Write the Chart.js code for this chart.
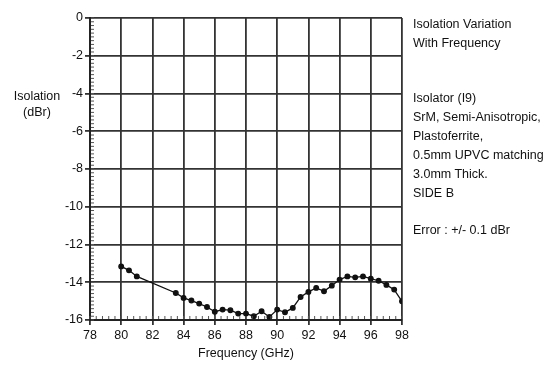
<!DOCTYPE html>
<html>
<head>
<meta charset="utf-8">
<script src="https://cdn.jsdelivr.net/npm/chart.js@4"></script>
<style>
  html, body { margin: 0; padding: 0; background: #fff; }
  #wrap { position: relative; width: 555px; height: 369px; }
  canvas { position: absolute; left: 0; top: 0; }
  .txt { position: absolute; font-family: 'Liberation Sans Narrow', 'Liberation Sans', Arial, sans-serif; font-size: 12.5px; color: #111; line-height: 19px; white-space: nowrap; }
</style>
</head>
<body>
<div id="wrap">
  <canvas id="myChart" width="555" height="369"></canvas>
  <div class="txt" style="left:11px; top:88px; line-height:16px; text-align:center; width:52px;">Isolation<br>(dBr)</div>
  <div class="txt" style="left:413px; top:15px;">Isolation Variation<br>With Frequency</div>
  <div class="txt" style="left:413px; top:89px;">Isolator (I9)<br>SrM, Semi-Anisotropic,<br>Plastoferrite,<br>0.5mm UPVC matching<br>3.0mm Thick.<br>SIDE B</div>
  <div class="txt" style="left:413px; top:221px;">Error : +/- 0.1 dBr</div>
</div>
<script>
const frequency = [80, 80.5, 81, 83.5, 84, 84.5, 85, 85.5, 86, 86.5, 87, 87.5, 88, 88.5, 89, 89.5,
    90, 90.5, 91, 91.5, 92, 92.5, 93, 93.5, 94, 94.5, 95, 95.5, 96, 96.5, 97, 97.5, 98];
const isolation = [-13.16, -13.37, -13.69, -14.57, -14.83, -14.97, -15.13, -15.31, -15.56, -15.45, -15.48, -15.66, -15.66, -15.8, -15.54, -15.84,
    -15.45, -15.59, -15.36, -14.78, -14.51, -14.30, -14.48, -14.18, -13.86, -13.69, -13.74, -13.69, -13.81, -13.92, -14.14, -14.39, -15.01];
const xTicks = [78, 80, 82, 84, 86, 88, 90, 92, 94, 96, 98];
const yTicks = [0, -2, -4, -6, -8, -10, -12, -14, -16];

const font = "'Liberation Sans Narrow', 'Liberation Sans', Arial, sans-serif";
const ink = '#111';
const gridColor = '#333';

// small dotted minor ticks along the left and bottom axes
const minorTicks = {
    id: 'minorTicks',
    afterDraw(chart) {
        const c = chart.ctx;
        const x = chart.scales.x, y = chart.scales.y;
        c.save();
        c.strokeStyle = '#555';
        c.lineWidth = 1;
        c.beginPath();
        for (let v = 78; v <= 98.001; v += 0.4) {
            const px = x.getPixelForValue(v);
            c.moveTo(px, y.bottom - 1);
            c.lineTo(px, y.bottom - 4);
        }
        for (let v = -16; v <= 0.001; v += 0.2) {
            const py = y.getPixelForValue(v);
            c.moveTo(x.left + 1, py);
            c.lineTo(x.left + 4, py);
        }
        c.stroke();
        c.restore();
    }
};

const ctx = document.getElementById('myChart');
const chart = new Chart(ctx, {
    type: 'scatter',
    data: {
        datasets: [{
            label: 'Isolation',
            data: frequency.map((f, i) => ({ x: f, y: isolation[i] })),
            showLine: true,
            borderColor: '#111',
            backgroundColor: '#111',
            borderWidth: 1.3,
            pointRadius: 2.3,
            pointHoverRadius: 2.3,
            tension: 0
        }]
    },
    options: {
        responsive: false,
        animation: false,
        events: [],
        layout: { padding: { left: 0, right: 153, top: 18, bottom: 0 } },
        plugins: { legend: { display: false }, tooltip: { enabled: false } },
        scales: {
            x: {
                type: 'linear',
                min: 78,
                max: 98,
                afterBuildTicks: s => { s.ticks = xTicks.map(v => ({ value: v })); },
                afterFit: s => { s.height = 49; },
                ticks: { color: ink, font: { family: font, size: 12.5 }, padding: 3, maxRotation: 0 },
                grid: { color: gridColor, lineWidth: 1.8, tickLength: 5, tickColor: gridColor },
                border: { color: '#222', width: 2 },
                title: { display: true, text: 'Frequency (GHz)', color: ink, font: { family: font, size: 12.5 }, padding: { top: 4, bottom: 8 } }
            },
            y: {
                type: 'linear',
                min: -16,
                max: 0,
                afterBuildTicks: s => { s.ticks = yTicks.map(v => ({ value: v })); },
                afterFit: s => { s.width = 90; },
                ticks: { color: ink, font: { family: font, size: 12.5 }, padding: 2 },
                grid: { color: gridColor, lineWidth: 1.8, tickLength: 5, tickColor: gridColor },
                border: { color: '#222', width: 2 }
            }
        }
    },
    plugins: [minorTicks]
});
</script>
</body>
</html>
